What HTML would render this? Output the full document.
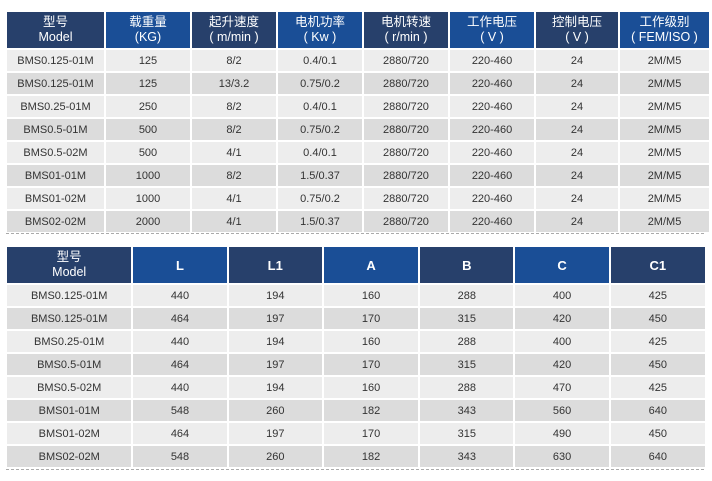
<!DOCTYPE html><html><head><meta charset="utf-8"><style>
body{margin:0;width:712px;height:481px;background:#fff;font-family:"Liberation Sans","Noto Sans CJK SC",sans-serif;position:relative;overflow:hidden}
table{position:absolute;left:5px;border-collapse:separate;border-spacing:2px 2px;table-layout:fixed}
td,th{text-align:center;padding:0;font-size:11px;color:#333;font-weight:normal}
th{color:#fff;font-size:12.5px;line-height:15px}
th.d{background:#27406b}th.b{background:#1a4e96}
tr.a td{background:#ededed}tr.c td{background:#dcdcdc}
.t2 th.l{font-weight:bold;font-size:13px}
.dash{position:absolute;left:6px;width:698px;border-top:1px dashed #aaa}
</style></head><body>
<table style="top:10px;width:702px">
<colgroup><col style="width:97px"><col style="width:84px"><col style="width:84px"><col style="width:84px"><col style="width:84px"><col style="width:84px"><col style="width:82px"><col style="width:89px"></colgroup>
<tr style="height:36px"><th class="d">型号<br>Model</th><th class="b">载重量<br>(KG)</th><th class="d">起升速度<br>( m/min )</th><th class="b">电机功率<br>( Kw )</th><th class="d">电机转速<br>( r/min )</th><th class="b">工作电压<br>( V )</th><th class="d">控制电压<br>( V )</th><th class="b">工作级别<br>( FEM/ISO )</th></tr>
<tr class="a" style="height:21px"><td>BMS0.125-01M</td><td>125</td><td>8/2</td><td>0.4/0.1</td><td>2880/720</td><td>220-460</td><td>24</td><td>2M/M5</td></tr>
<tr class="c" style="height:21px"><td>BMS0.125-01M</td><td>125</td><td>13/3.2</td><td>0.75/0.2</td><td>2880/720</td><td>220-460</td><td>24</td><td>2M/M5</td></tr>
<tr class="a" style="height:21px"><td>BMS0.25-01M</td><td>250</td><td>8/2</td><td>0.4/0.1</td><td>2880/720</td><td>220-460</td><td>24</td><td>2M/M5</td></tr>
<tr class="c" style="height:21px"><td>BMS0.5-01M</td><td>500</td><td>8/2</td><td>0.75/0.2</td><td>2880/720</td><td>220-460</td><td>24</td><td>2M/M5</td></tr>
<tr class="a" style="height:21px"><td>BMS0.5-02M</td><td>500</td><td>4/1</td><td>0.4/0.1</td><td>2880/720</td><td>220-460</td><td>24</td><td>2M/M5</td></tr>
<tr class="c" style="height:21px"><td>BMS01-01M</td><td>1000</td><td>8/2</td><td>1.5/0.37</td><td>2880/720</td><td>220-460</td><td>24</td><td>2M/M5</td></tr>
<tr class="a" style="height:21px"><td>BMS01-02M</td><td>1000</td><td>4/1</td><td>0.75/0.2</td><td>2880/720</td><td>220-460</td><td>24</td><td>2M/M5</td></tr>
<tr class="c" style="height:21px"><td>BMS02-02M</td><td>2000</td><td>4/1</td><td>1.5/0.37</td><td>2880/720</td><td>220-460</td><td>24</td><td>2M/M5</td></tr>
</table>
<div class="dash" style="top:233px"></div>
<table class="t2" style="top:245px;width:702px">
<colgroup><col style="width:124px"><col style="width:93px"><col style="width:93px"><col style="width:94px"><col style="width:93px"><col style="width:93px"><col style="width:94px"></colgroup>
<tr style="height:36px"><th class="d">型号<br>Model</th><th class="b l">L</th><th class="d l">L1</th><th class="b l">A</th><th class="d l">B</th><th class="b l">C</th><th class="d l">C1</th></tr>
<tr class="a" style="height:21px"><td>BMS0.125-01M</td><td>440</td><td>194</td><td>160</td><td>288</td><td>400</td><td>425</td></tr>
<tr class="c" style="height:21px"><td>BMS0.125-01M</td><td>464</td><td>197</td><td>170</td><td>315</td><td>420</td><td>450</td></tr>
<tr class="a" style="height:21px"><td>BMS0.25-01M</td><td>440</td><td>194</td><td>160</td><td>288</td><td>400</td><td>425</td></tr>
<tr class="c" style="height:21px"><td>BMS0.5-01M</td><td>464</td><td>197</td><td>170</td><td>315</td><td>420</td><td>450</td></tr>
<tr class="a" style="height:21px"><td>BMS0.5-02M</td><td>440</td><td>194</td><td>160</td><td>288</td><td>470</td><td>425</td></tr>
<tr class="c" style="height:21px"><td>BMS01-01M</td><td>548</td><td>260</td><td>182</td><td>343</td><td>560</td><td>640</td></tr>
<tr class="a" style="height:21px"><td>BMS01-02M</td><td>464</td><td>197</td><td>170</td><td>315</td><td>490</td><td>450</td></tr>
<tr class="c" style="height:21px"><td>BMS02-02M</td><td>548</td><td>260</td><td>182</td><td>343</td><td>630</td><td>640</td></tr>
</table>
<div class="dash" style="top:469px"></div>
</body></html>
